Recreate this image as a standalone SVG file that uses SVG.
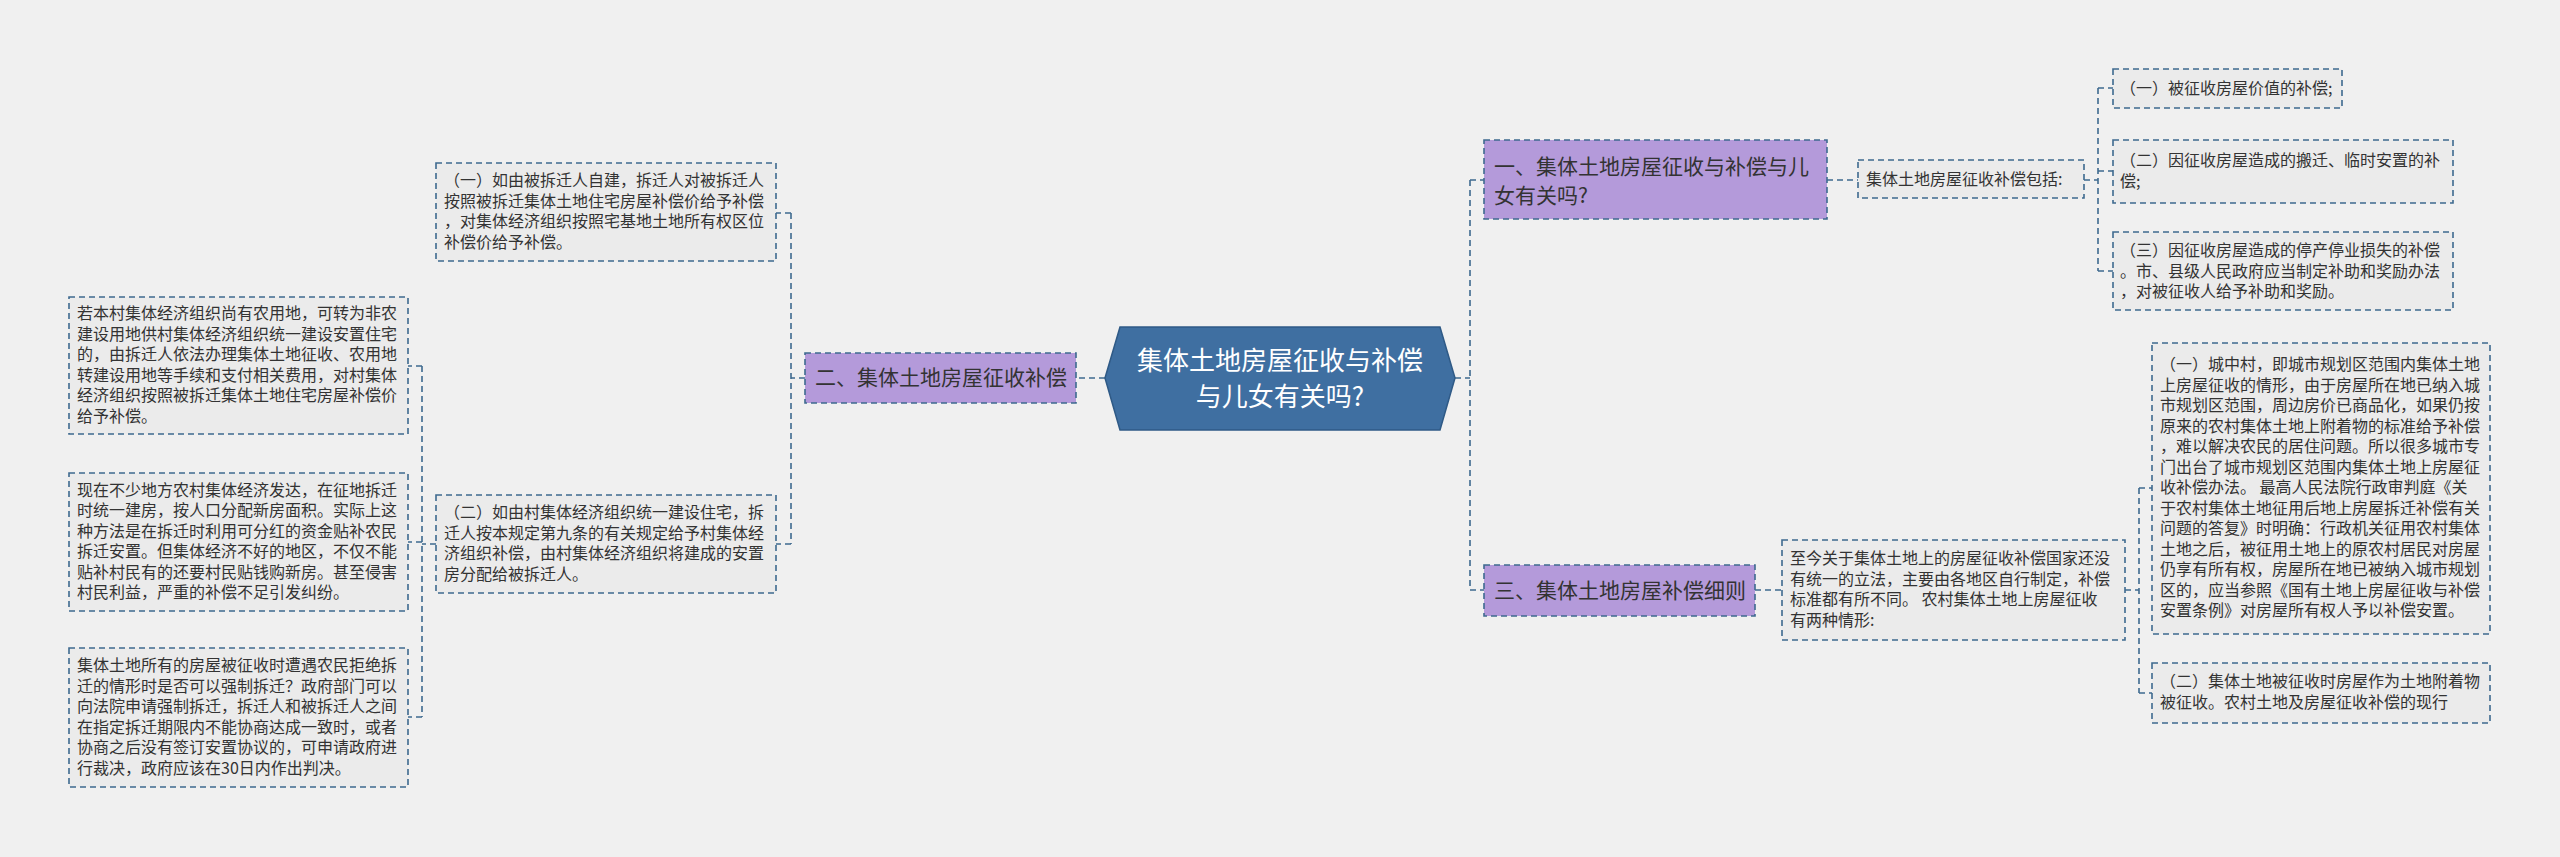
<svg xmlns="http://www.w3.org/2000/svg" width="2560" height="857" viewBox="0 0 2560 857">
<style>
text{font-family:"Noto Sans CJK SC","Liberation Sans",sans-serif;}
.leaf{fill:#ebebeb;stroke:#3e6a8f;stroke-width:1.6;stroke-dasharray:6,4;}
.br{fill:#b49ada;stroke:#3e6a8f;stroke-width:1.6;stroke-dasharray:6,4;}
.lt{font-size:16px;fill:#333;}
.bt{font-size:21px;fill:#333;}
.con path{fill:none;stroke:#3e6a8f;stroke-width:1.6;stroke-dasharray:6,4;}
</style>
<rect width="2560" height="857" fill="#f0f0f0"/>
<g class="con">
<path d="M1105,378 H1076"/>
<path d="M1455,378 H1470 M1470,180 V590 M1470,180 H1484 M1470,590 H1484"/>
<path d="M1827,180 H1858"/>
<path d="M2084,180 H2098 M2098,88 V271 M2098,88 H2113 M2098,171 H2113 M2098,271 H2113"/>
<path d="M1755,590 H1782"/>
<path d="M2125,590 H2139 M2139,488 V693 M2139,488 H2152 M2139,693 H2152"/>
<path d="M805,378 H791 M791,213 V544 M791,213 H776 M791,544 H776"/>
<path d="M436,544 H422 M422,366 V717 M422,366 H408 M422,542 H408 M422,717 H408"/>
</g>
<g id="center">
<polygon points="1105,378 1120,327 1440,327 1455,378 1440,430 1120,430" fill="#3f6fa1" stroke="#2f5a86" stroke-width="1.5"/>
<text x="1280" y="370" text-anchor="middle" font-size="26" fill="#fff">集体土地房屋征收与补偿</text>
<text x="1280" y="406" text-anchor="middle" font-size="26" fill="#fff">与儿女有关吗?</text>
</g>
<g id="b1">
<rect class="br" x="1484" y="140" width="343" height="79"/>
<text class="bt" x="1494" y="174">一、集体土地房屋征收与补偿与儿</text>
<text class="bt" x="1494" y="203">女有关吗?</text>
</g>
<g id="b1c">
<rect class="leaf" x="1858" y="160" width="226" height="38"/>
<text class="lt" x="1866" y="185">集体土地房屋征收补偿包括:</text>
</g>
<g id="l1">
<rect class="leaf" x="2113" y="69" width="229" height="39"/>
<text class="lt" x="2120" y="94">（一）被征收房屋价值的补偿;</text>
</g>
<g id="l2">
<rect class="leaf" x="2113" y="140" width="340" height="63"/>
<text class="lt" x="2120" y="166">（二）因征收房屋造成的搬迁、临时安置的补</text>
<text class="lt" x="2120" y="187">偿;</text>
</g>
<g id="l3">
<rect class="leaf" x="2113" y="232" width="340" height="78"/>
<text class="lt" x="2120" y="256">（三）因征收房屋造成的停产停业损失的补偿</text>
<text class="lt" x="2120" y="277">。市、县级人民政府应当制定补助和奖励办法</text>
<text class="lt" x="2120" y="297">，对被征收人给予补助和奖励。</text>
</g>
<g id="b3">
<rect class="br" x="1484" y="565" width="271" height="51"/>
<text class="bt" x="1494" y="598">三、集体土地房屋补偿细则</text>
</g>
<g id="b3c">
<rect class="leaf" x="1782" y="540" width="343" height="100"/>
<text class="lt" x="1790" y="564">至今关于集体土地上的房屋征收补偿国家还没</text>
<text class="lt" x="1790" y="585">有统一的立法，主要由各地区自行制定，补偿</text>
<text class="lt" x="1790" y="605">标准都有所不同。 农村集体土地上房屋征收</text>
<text class="lt" x="1790" y="626">有两种情形:</text>
</g>
<g id="r1">
<rect class="leaf" x="2152" y="343" width="338" height="291"/>
<text class="lt" x="2160" y="370">（一）城中村，即城市规划区范围内集体土地</text>
<text class="lt" x="2160" y="390.5">上房屋征收的情形，由于房屋所在地已纳入城</text>
<text class="lt" x="2160" y="411">市规划区范围，周边房价已商品化，如果仍按</text>
<text class="lt" x="2160" y="431.5">原来的农村集体土地上附着物的标准给予补偿</text>
<text class="lt" x="2160" y="452">，难以解决农民的居住问题。所以很多城市专</text>
<text class="lt" x="2160" y="472.5">门出台了城市规划区范围内集体土地上房屋征</text>
<text class="lt" x="2160" y="493">收补偿办法。 最高人民法院行政审判庭《关</text>
<text class="lt" x="2160" y="513.5">于农村集体土地征用后地上房屋拆迁补偿有关</text>
<text class="lt" x="2160" y="534">问题的答复》时明确：行政机关征用农村集体</text>
<text class="lt" x="2160" y="554.5">土地之后，被征用土地上的原农村居民对房屋</text>
<text class="lt" x="2160" y="575">仍享有所有权，房屋所在地已被纳入城市规划</text>
<text class="lt" x="2160" y="595.5">区的，应当参照《国有土地上房屋征收与补偿</text>
<text class="lt" x="2160" y="616">安置条例》对房屋所有权人予以补偿安置。</text>
</g>
<g id="r2">
<rect class="leaf" x="2152" y="663" width="338" height="60"/>
<text class="lt" x="2160" y="687">（二）集体土地被征收时房屋作为土地附着物</text>
<text class="lt" x="2160" y="708">被征收。农村土地及房屋征收补偿的现行</text>
</g>
<g id="b2">
<rect class="br" x="805" y="353" width="271" height="50"/>
<text class="bt" x="815" y="385">二、集体土地房屋征收补偿</text>
</g>
<g id="a">
<rect class="leaf" x="436" y="163" width="340" height="98"/>
<text class="lt" x="444" y="186">（一）如由被拆迁人自建，拆迁人对被拆迁人</text>
<text class="lt" x="444" y="206.5">按照被拆迁集体土地住宅房屋补偿价给予补偿</text>
<text class="lt" x="444" y="227">，对集体经济组织按照宅基地土地所有权区位</text>
<text class="lt" x="444" y="247.5">补偿价给予补偿。</text>
</g>
<g id="b">
<rect class="leaf" x="436" y="495" width="340" height="98"/>
<text class="lt" x="444" y="518">（二）如由村集体经济组织统一建设住宅，拆</text>
<text class="lt" x="444" y="538.5">迁人按本规定第九条的有关规定给予村集体经</text>
<text class="lt" x="444" y="559">济组织补偿，由村集体经济组织将建成的安置</text>
<text class="lt" x="444" y="579.5">房分配给被拆迁人。</text>
</g>
<g id="c">
<rect class="leaf" x="69" y="297" width="339" height="137"/>
<text class="lt" x="77" y="319">若本村集体经济组织尚有农用地，可转为非农</text>
<text class="lt" x="77" y="339.5">建设用地供村集体经济组织统一建设安置住宅</text>
<text class="lt" x="77" y="360">的，由拆迁人依法办理集体土地征收、农用地</text>
<text class="lt" x="77" y="380.5">转建设用地等手续和支付相关费用，对村集体</text>
<text class="lt" x="77" y="401">经济组织按照被拆迁集体土地住宅房屋补偿价</text>
<text class="lt" x="77" y="421.5">给予补偿。</text>
</g>
<g id="d">
<rect class="leaf" x="69" y="473" width="339" height="138"/>
<text class="lt" x="77" y="495.5">现在不少地方农村集体经济发达，在征地拆迁</text>
<text class="lt" x="77" y="516">时统一建房，按人口分配新房面积。实际上这</text>
<text class="lt" x="77" y="536.5">种方法是在拆迁时利用可分红的资金贴补农民</text>
<text class="lt" x="77" y="557">拆迁安置。但集体经济不好的地区，不仅不能</text>
<text class="lt" x="77" y="577.5">贴补村民有的还要村民贴钱购新房。甚至侵害</text>
<text class="lt" x="77" y="598">村民利益，严重的补偿不足引发纠纷。</text>
</g>
<g id="e">
<rect class="leaf" x="69" y="648" width="339" height="139"/>
<text class="lt" x="77" y="671">集体土地所有的房屋被征收时遭遇农民拒绝拆</text>
<text class="lt" x="77" y="691.5">迁的情形时是否可以强制拆迁？政府部门可以</text>
<text class="lt" x="77" y="712">向法院申请强制拆迁，拆迁人和被拆迁人之间</text>
<text class="lt" x="77" y="732.5">在指定拆迁期限内不能协商达成一致时，或者</text>
<text class="lt" x="77" y="753">协商之后没有签订安置协议的，可申请政府进</text>
<text class="lt" x="77" y="773.5">行裁决，政府应该在30日内作出判决。</text>
</g>
</svg>
